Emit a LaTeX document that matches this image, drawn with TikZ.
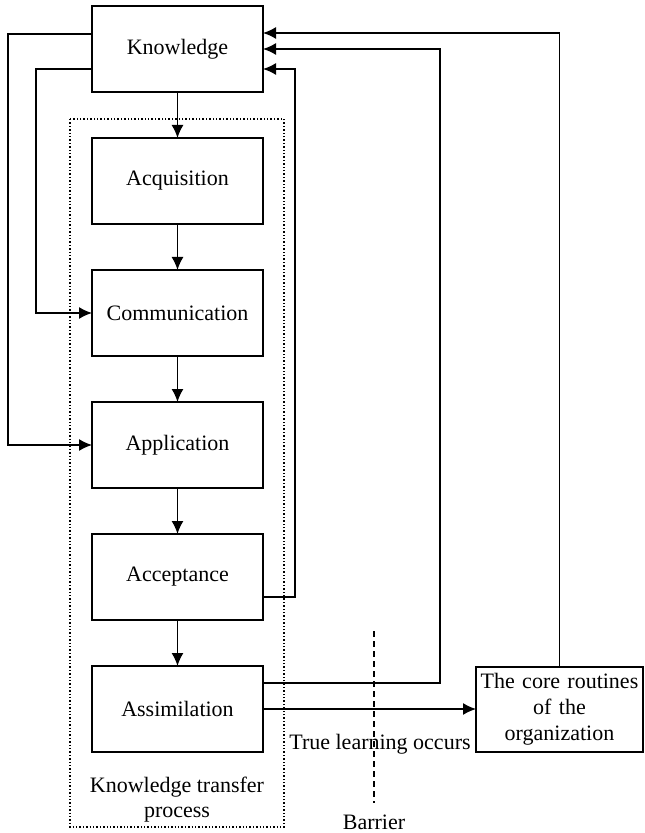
\documentclass[tikz,border=0pt]{standalone}
\usepackage{fontspec}
\setmainfont{Liberation Serif}
\usepackage{tikz}
\usetikzlibrary{arrows.meta, positioning}
\tikzstyle{stage} = [draw, rectangle, line width=0.7pt, minimum width=85.5pt, minimum height=43pt, inner sep=0pt, outer sep=0pt, font=\fontsize{11}{13}\selectfont]
\tikzstyle{flow} = [line width=0.7pt, -{Latex[length=6.5pt,width=6pt]}]
\tikzstyle{plain} = [line width=0.7pt]

\begin{document}
\begin{tikzpicture}[x=0.5pt, y=-0.5pt, node distance=23pt]
	\useasboundingbox (0,0) rectangle (644,833);
	% the five stages below the knowledge box
	\node [stage] (know) at (177.5,49) {Knowledge};
	\node [stage, below=of know] (acq) {Acquisition};
	\node [stage, below=of acq] (comm) {Communication};
	\node [stage, below=of comm] (app) {Application};
	\node [stage, below=of app] (acc) {Acceptance};
	\node [stage, below=of acc] (assim) {Assimilation};
	\node [stage, minimum width=83.5pt, minimum height=42.5pt, text width=82pt, align=center] (core) at (559.5,709.5) {The core routines\\of the\\organization};
	% transfer process frame and barrier
	\draw [plain, densely dotted] (70,119) rectangle (284,827);
	\node [font=\fontsize{11}{12.5}\selectfont, align=center] (process) at (177,800) {Knowledge transfer\\process};
	\draw [plain, densely dashed] (374,631) -- (374,803);
	\node [font=\fontsize{11}{13}\selectfont] (barrier) at (374,822) {Barrier};
	\node [font=\fontsize{11}{13}\selectfont] (learning) at (380,744) {True learning occurs};
	% main flow
	\draw [flow] (know) -- (acq);
	\draw [flow] (acq) -- (comm);
	\draw [flow] (comm) -- (app);
	\draw [flow] (app) -- (acc);
	\draw [flow] (acc) -- (assim);
	\draw [flow] (assim.east) -- (assim.east -| core.west);
	% feedback loops
	\draw [flow] ([yshift=7.5pt]know.west) -- ++(-42pt,0) |- (app.west);
	\draw [flow] ([yshift=-10pt]know.west) -- ++(-28pt,0) |- (comm.west);
	\draw [flow] ([yshift=-10pt]acc.east) -- ++(16pt,0) |- ([yshift=-10pt]know.east);
	\draw [flow] ([yshift=13pt]assim.east) -- ++(88.5pt,0) |- (know.east);
	\draw [flow] (core.north) |- ([yshift=8pt]know.east);
\end{tikzpicture}
\end{document}
